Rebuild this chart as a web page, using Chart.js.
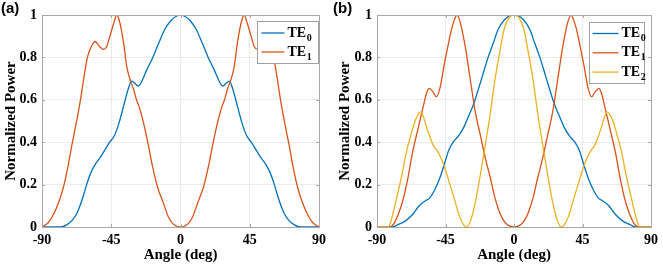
<!DOCTYPE html>
<html>
<head>
<meta charset="utf-8">
<script src="https://cdn.jsdelivr.net/npm/chart.js@4.4.1/dist/chart.umd.min.js"></script>
<style>
  html, body { margin: 0; padding: 0; background: #ffffff; }
  #wrap { position: relative; width: 663px; height: 265px; overflow: hidden; }
  canvas { position: absolute; top: 0; }
</style>
</head>
<body>
<div id="wrap">
  <canvas id="chartA" width="331" height="265" style="left:0px"></canvas>
  <canvas id="chartB" width="332" height="265" style="left:331px"></canvas>
</div>
<script>
// ---------- data ----------
const xTicks = [-90, -45, 0, 45, 90];
const yTicks = [0, 0.2, 0.4, 0.6, 0.8, 1];
const seriesNames = ["TE", "TE", "TE"];
const seriesSubs = ["0", "1", "2"];
const panelLabels = ["(a)", "(b)"];
const xTitle = "Angle (deg)";
const yTitle = "Normalized Power";

// Panel (a) TE0
const anglesA0 = [-90,-78,-74,-70,-67,-63,-61,-58,-55,-52,-46,-43,-40,-37,-34,-31.8,-30,-27.5,-25,-22,-18,-14,-10,-6,-3,0,
                  3,6,10,14,18,22,25,27.5,30,31.8,34,37,40,43,46,52,55,58,61,63,67,70,74,78,90];
const powerA0 = [0,0,0.01,0.035,0.07,0.15,0.2,0.26,0.3,0.33,0.4,0.43,0.49,0.57,0.65,0.688,0.68,0.665,0.69,0.74,0.8,0.87,0.935,0.975,0.993,1,
                 0.993,0.975,0.935,0.87,0.8,0.74,0.69,0.665,0.68,0.688,0.65,0.57,0.49,0.43,0.4,0.33,0.3,0.26,0.2,0.15,0.07,0.035,0.01,0,0];
// Panel (a) TE1
const anglesA1 = [-90,-86,-82.5,-79,-76,-73,-70.5,-68,-65,-62,-60.5,-58,-55.5,-52.5,-50,-48,-45.5,-43,-41.5,-40,-37,-35,-33,-30.5,-28.6,-27,-24,-21,-18,-15,-11,-8,-5,0,
                  5,8,11,15,18,21,24,27,28.6,30.5,33,35,37,40,41.5,43,45.5,48,50,52.5,55.5,58,60.5,62,65,68,70.5,73,76,79,82.5,86,90];
const powerA1 = [0,0.02,0.06,0.12,0.19,0.29,0.39,0.48,0.6,0.74,0.8,0.85,0.875,0.85,0.838,0.85,0.91,0.97,1,0.98,0.87,0.76,0.7,0.65,0.6,0.57,0.49,0.39,0.28,0.19,0.11,0.05,0.016,0,
                 0.016,0.05,0.11,0.19,0.28,0.39,0.49,0.57,0.6,0.65,0.7,0.76,0.87,0.98,1,0.97,0.91,0.85,0.838,0.85,0.875,0.85,0.8,0.74,0.6,0.48,0.39,0.29,0.19,0.12,0.06,0.02,0];

// Panel (b) TE0
const anglesB0 = [-90,-80,-76,-71,-66.5,-62.3,-58,-55.8,-52.5,-49.3,-46,-43,-40,-36.4,-33,-30,-26.5,-23.4,-20,-17,-13.5,-10.5,-6,0,
                  6,10.5,13.5,17,20,23.4,26.5,30,33,36.4,40,43,46,49.3,52.5,55.8,58,62.3,66.5,71,76,80,90];
const powerB0 = [0,0,0.012,0.03,0.06,0.1,0.125,0.134,0.17,0.22,0.29,0.36,0.4,0.43,0.47,0.52,0.58,0.65,0.73,0.8,0.87,0.93,0.98,1,
                 0.98,0.93,0.87,0.8,0.73,0.65,0.58,0.52,0.47,0.43,0.4,0.36,0.29,0.22,0.17,0.134,0.125,0.1,0.06,0.03,0.012,0,0];
// Panel (b) TE1
const anglesB1 = [-90,-82,-79,-76,-73,-70,-66.7,-63.5,-60.2,-57.5,-55.8,-53.5,-51,-48.5,-46,-43.5,-41.8,-39.5,-37.5,-35.5,-32,-29,-25.6,-22,-19,-15.5,-12.6,-9.5,-6.2,-3,0,
                  3,6.2,9.5,12.6,15.5,19,22,25.6,29,32,35.5,37.5,39.5,41.8,43.5,46,48.5,51,53.5,55.8,57.5,60.2,63.5,66.7,70,73,76,79,82,90];
const powerB1 = [0,0,0.015,0.06,0.126,0.22,0.35,0.45,0.55,0.63,0.654,0.64,0.614,0.66,0.76,0.85,0.91,0.97,1,0.97,0.85,0.71,0.55,0.43,0.33,0.23,0.14,0.07,0.024,0.005,0,
                 0.005,0.024,0.07,0.14,0.23,0.33,0.43,0.55,0.71,0.85,0.97,1,0.97,0.91,0.85,0.76,0.66,0.614,0.64,0.654,0.63,0.55,0.45,0.35,0.22,0.126,0.06,0.015,0,0];
// Panel (b) TE2
const anglesB2 = [-90,-82.6,-80,-77,-73.5,-70.5,-67.5,-65,-63,-61.3,-59.5,-57.4,-55,-53,-51,-49.3,-46,-42.9,-39.5,-36.4,-33.5,-31,-28.5,-25.6,-22.5,-19,-15.5,-12.6,-9.5,-6.2,-3,0,
                  3,6.2,9.5,12.6,15.5,19,22.5,25.6,28.5,31,33.5,36.4,39.5,42.9,46,49.3,51,53,55,57.4,59.5,61.3,63,65,67.5,70.5,73.5,77,80,82.6,90];
const powerB2 = [0,0,0.05,0.14,0.25,0.36,0.44,0.5,0.53,0.543,0.52,0.47,0.42,0.385,0.365,0.346,0.29,0.22,0.14,0.063,0.015,0,0.03,0.11,0.23,0.38,0.54,0.69,0.82,0.94,0.99,1,
                 0.99,0.94,0.82,0.69,0.54,0.38,0.23,0.11,0.03,0,0.015,0.063,0.14,0.22,0.29,0.346,0.365,0.385,0.42,0.47,0.52,0.543,0.53,0.5,0.44,0.36,0.25,0.14,0.05,0,0];

const colors = ["#0072BD", "#D95319", "#EDB120"];

// ---------- helpers ----------
function pts(xs, ys) { return xs.map((x, i) => ({ x: x, y: ys[i] })); }

const boxColor = "#a8a8a8";
const serif = "'Liberation Serif', 'Times New Roman', serif";

const framePlugin = {
  id: "frame",
  afterDatasetsDraw(chart, args, opts) {
    const { ctx, chartArea: a } = chart;
    const xs = chart.scales.x, ys = chart.scales.y;
    ctx.save();
    ctx.strokeStyle = boxColor;
    ctx.lineWidth = 1;
    ctx.beginPath();
    xTicks.forEach(v => {
      const px = Math.round(xs.getPixelForValue(v)) + 0.5;
      ctx.moveTo(px, a.bottom); ctx.lineTo(px, a.bottom - 3);
      ctx.moveTo(px, a.top); ctx.lineTo(px, a.top + 3);
    });
    yTicks.forEach(v => {
      const py = Math.round(ys.getPixelForValue(v)) + 0.5;
      ctx.moveTo(a.left, py); ctx.lineTo(a.left + 3, py);
      ctx.moveTo(a.right, py); ctx.lineTo(a.right - 3, py);
    });
    ctx.stroke();
    ctx.strokeRect(Math.round(a.left) + 0.5, Math.round(a.top) + 0.5,
                   Math.round(a.right - a.left), Math.round(a.bottom - a.top));
    ctx.restore();
  },
  afterDraw(chart, args, opts) {
    const { ctx, chartArea: a } = chart;
    ctx.save();
    ctx.fillStyle = "#000";
    ctx.font = "bold 15px 'Liberation Sans', Arial, sans-serif";
    ctx.textBaseline = "middle";
    ctx.textAlign = "left";
    ctx.fillText(opts.label, opts.labelX, 9);
    const L = opts.legend;
    const bx = Math.round(a.right - L.rightInset - L.width) + 0.5;
    const by = Math.round(a.top + L.topInset) + 0.5;
    ctx.fillStyle = "#ffffff";
    ctx.fillRect(bx, by, L.width, L.height);
    ctx.strokeStyle = "#a0a0a0";
    ctx.lineWidth = 1;
    ctx.strokeRect(bx, by, L.width, L.height);
    for (let i = 0; i < L.count; i++) {
      const yy = by + L.firstRow + i * L.rowH;
      ctx.strokeStyle = colors[i];
      ctx.lineWidth = 1.3;
      ctx.beginPath();
      ctx.moveTo(bx + L.lineStart, yy);
      ctx.lineTo(bx + L.lineStart + L.lineLen, yy);
      ctx.stroke();
      ctx.fillStyle = "#000";
      ctx.font = "bold 14px " + serif;
      ctx.textBaseline = "middle";
      const tx = bx + L.lineStart + L.lineLen + 3;
      ctx.fillText(seriesNames[i], tx, yy);
      const w = ctx.measureText(seriesNames[i]).width;
      ctx.font = "bold 10px " + serif;
      ctx.fillText(seriesSubs[i], tx + w + 0.5, yy + 5);
    }
    ctx.restore();
  }
};

function fmt(v) { return String(+Number(v).toFixed(2)); }

function makeChart(id, datasets, yWidth, padRight, yTitlePad, frameOpts) {
  return new Chart(document.getElementById(id), {
    type: "line",
    data: { datasets: datasets },
    options: {
      responsive: false,
      animation: false,
      devicePixelRatio: 1,
      layout: { padding: { left: 0, right: padRight, top: 15, bottom: 0 } },
      plugins: {
        legend: { display: false },
        tooltip: { enabled: false },
        frame: frameOpts
      },
      elements: { point: { radius: 0 }, line: { borderWidth: 1.3, cubicInterpolationMode: "monotone" } },
      scales: {
        x: {
          type: "linear", min: -90, max: 90,
          afterFit: s => { s.height = 38; },
          afterBuildTicks: s => { s.ticks = xTicks.map(v => ({ value: v })); },
          ticks: { color: "#000", padding: 5, font: { family: serif, size: 14, weight: "bold" }, maxRotation: 0, autoSkip: false, callback: fmt },
          grid: { color: "#ebebeb", lineWidth: 1, drawTicks: false },
          border: { display: false },
          title: { display: true, text: xTitle, color: "#000", padding: { top: 0, bottom: 1 },
                   font: { family: serif, size: 15, weight: "bold", lineHeight: 1.2 } }
        },
        y: {
          type: "linear", min: 0, max: 1,
          afterFit: s => { s.width = yWidth; },
          afterBuildTicks: s => { s.ticks = yTicks.map(v => ({ value: v })); },
          ticks: { color: "#000", padding: 5, font: { family: serif, size: 14, weight: "bold" }, autoSkip: false, callback: fmt },
          grid: { color: "#ebebeb", lineWidth: 1, drawTicks: false },
          border: { display: false },
          title: { display: true, text: yTitle, color: "#000", padding: { top: yTitlePad, bottom: 0 },
                   font: { family: serif, size: 15, weight: "bold", lineHeight: 1.2 } }
        }
      }
    },
    plugins: [framePlugin]
  });
}

makeChart("chartA", [
  { label: "TE0", data: pts(anglesA0, powerA0), borderColor: colors[0], order: 3, fill: false },
  { label: "TE1", data: pts(anglesA1, powerA1), borderColor: colors[1], order: 2, fill: false }
], 42, 11, 2, {
  label: panelLabels[0], labelX: 1,
  legend: { count: 2, width: 61, height: 42, rightInset: 1, topInset: 6, firstRow: 11.5, rowH: 19, lineStart: 4, lineLen: 23 }
});

makeChart("chartB", [
  { label: "TE0", data: pts(anglesB0, powerB0), borderColor: colors[0], order: 3, fill: false },
  { label: "TE1", data: pts(anglesB1, powerB1), borderColor: colors[1], order: 2, fill: false },
  { label: "TE2", data: pts(anglesB2, powerB2), borderColor: colors[2], order: 1, fill: false }
], 46, 8, 5, {
  label: panelLabels[1], labelX: 2,
  legend: { count: 3, width: 55, height: 61, rightInset: 7, topInset: 6.5, firstRow: 11, rowH: 19.3, lineStart: 3, lineLen: 26 }
});
</script>
</body>
</html>
